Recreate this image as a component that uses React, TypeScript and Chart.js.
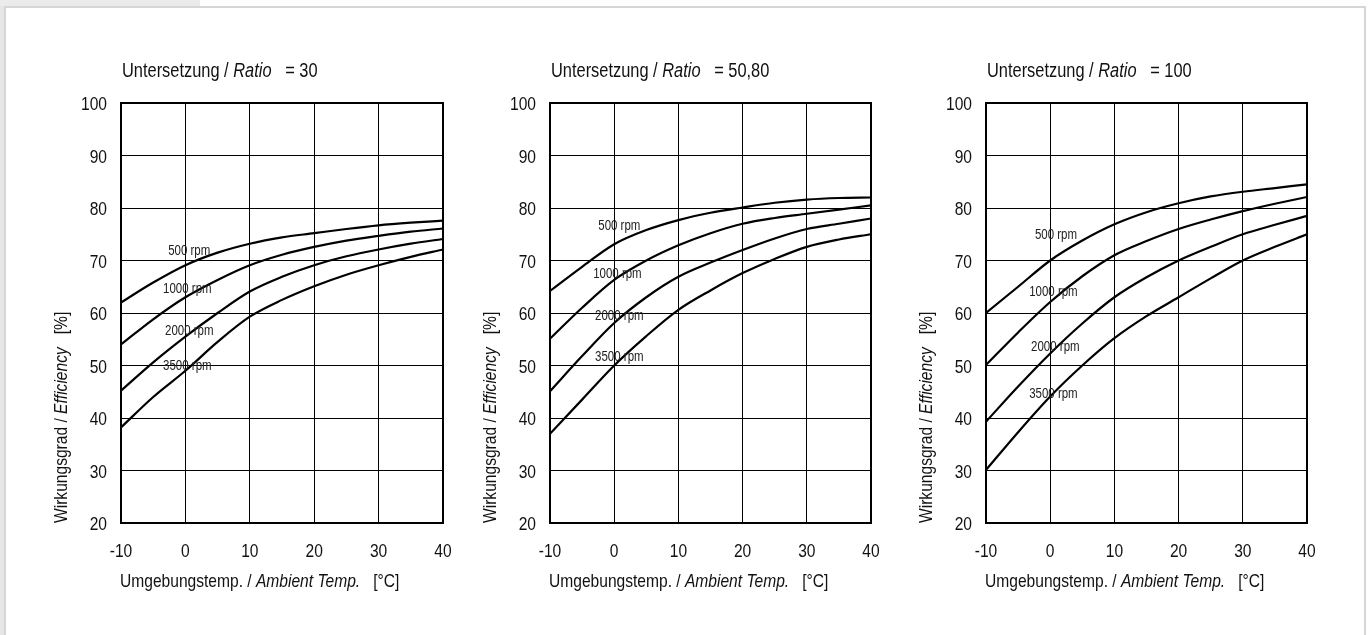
import { useEffect, useRef } from "react";
import { Chart, registerables } from "chart.js";

Chart.register(...registerables);

// ---------- data ----------
const temps = [-10, -5, 0, 5, 10, 15, 20, 25, 30, 35, 40];
const speeds = ["500 rpm", "1000 rpm", "2000 rpm", "3500 rpm"];
const ratioNames = ["30", "50,80", "100"];

const r30_500 = [62, 65.8, 69.1, 71.5, 73.2, 74.4, 75.2, 76.0, 76.7, 77.2, 77.6];
const r30_1000 = [54, 58.8, 63.0, 66.3, 69.1, 71.1, 72.6, 73.8, 74.7, 75.5, 76.1];
const r30_2000 = [45.2, 50.6, 55.5, 60.0, 64.1, 66.9, 69.1, 70.8, 72.1, 73.2, 74.1];
const r30_3500 = [38.2, 44.0, 49.0, 54.5, 59.3, 62.5, 65.1, 67.3, 69.1, 70.7, 72.1];

const r50_500 = [64.2, 68.8, 73.1, 75.8, 77.7, 79.1, 80.1, 81.0, 81.6, 81.9, 82.0];
const r50_1000 = [55.1, 61.0, 66.3, 70.0, 72.9, 75.2, 77.0, 78.1, 78.9, 79.7, 80.5];
const r50_2000 = [45.1, 51.8, 58.1, 63.0, 66.9, 69.6, 72.0, 74.2, 76.0, 77.0, 78.0];
const r50_3500 = [37.0, 43.5, 50.0, 55.6, 60.6, 64.3, 67.6, 70.3, 72.6, 74.0, 75.0];

const r100_500 = [60, 65, 70, 73.8, 76.9, 79.2, 80.9, 82.2, 83.1, 83.8, 84.5];
const r100_1000 = [50.1, 56.3, 62.1, 67.0, 71.0, 73.7, 76.0, 77.8, 79.4, 80.8, 82.1];
const r100_2000 = [39.3, 46.0, 52.3, 58.0, 63.0, 66.8, 70.0, 72.6, 75.0, 76.8, 78.5];
const r100_3500 = [30.1, 37.3, 44.1, 50.0, 55.2, 59.4, 63.0, 66.6, 70.0, 72.6, 75.0];

const series = [
  [r30_500, r30_1000, r30_2000, r30_3500],
  [r50_500, r50_1000, r50_2000, r50_3500],
  [r100_500, r100_1000, r100_2000, r100_3500],
];

// curve label anchors in data coordinates [temp, efficiency]
const labelAnchors = [
  [[0.6, 72.0], [0.3, 64.7], [0.6, 56.8], [0.3, 50.1]],
  [[0.8, 76.7], [0.5, 67.6], [0.8, 59.6], [0.8, 51.8]],
  [[0.9, 75.0], [0.5, 64.1], [0.8, 53.7], [0.5, 44.7]],
];

const xMin = -10, xMax = 40, xStep = 10;
const yMin = 20, yMax = 100, yStep = 10;

// ---------- layout ----------
const plotLefts = [121, 550, 986];
const plotWidths = [322, 321, 321];
const PLOT_TOP = 103;
const PLOT_BOTTOM = 523;
const H = 635;
const Y_AXIS_W = 111;
const X_AXIS_H = 40;
const RIGHT_PAD = 40;

const FONT = '"Liberation Sans", Arial, sans-serif';
const NARROW = 0.82;
const TEXT = "#111";

type Seg = { t: string; i?: boolean };

function segWidth(ctx: CanvasRenderingContext2D, segs: Seg[], size: number) {
  let w = 0;
  for (const s of segs) {
    ctx.font = `${s.i ? "italic " : ""}${size}px ${FONT}`;
    w += ctx.measureText(s.t).width;
  }
  return w * NARROW;
}

// draws narrow text starting at (0,0) of current transform
function drawSegs(ctx: CanvasRenderingContext2D, segs: Seg[], size: number) {
  ctx.save();
  ctx.scale(NARROW, 1);
  ctx.textAlign = "left";
  let cx = 0;
  for (const s of segs) {
    ctx.font = `${s.i ? "italic " : ""}${size}px ${FONT}`;
    ctx.fillText(s.t, cx, 0);
    cx += ctx.measureText(s.t).width;
  }
  ctx.restore();
}

function drawAt(ctx: CanvasRenderingContext2D, segs: Seg[], size: number, x: number, y: number, align: "left" | "center" | "right") {
  const w = segWidth(ctx, segs, size);
  const dx = align === "left" ? 0 : align === "center" ? -w / 2 : -w;
  ctx.save();
  ctx.translate(x + dx, y);
  drawSegs(ctx, segs, size);
  ctx.restore();
}

function makePlugin(idx: number) {
  return {
    id: "decor" + idx,
    afterDraw(chart: any) {
      const { ctx, chartArea: ca, scales } = chart;
      ctx.save();
      ctx.strokeStyle = "#000";
      ctx.lineWidth = 2;
      ctx.strokeRect(ca.left, ca.top, ca.right - ca.left, ca.bottom - ca.top);

      ctx.fillStyle = TEXT;
      ctx.textBaseline = "alphabetic";

      // tick labels (from the library's scales)
      scales.x.ticks.forEach((t: any) => {
        const x = scales.x.getPixelForValue(t.value);
        drawAt(ctx, [{ t: String(t.value) }], 19, x, ca.bottom + 34, "center");
      });
      scales.y.ticks.forEach((t: any) => {
        const y = scales.y.getPixelForValue(t.value);
        drawAt(ctx, [{ t: String(t.value) }], 19, ca.left - 14, y + 7, "right");
      });

      // titles
      drawAt(ctx, [{ t: "Untersetzung / " }, { t: "Ratio", i: true }, { t: "   = " + ratioNames[idx] }], 20, ca.left + 1, 77, "left");
      drawAt(ctx, [{ t: "Umgebungstemp. / " }, { t: "Ambient Temp.", i: true }, { t: "   [°C]" }], 19, ca.left - 1, 587, "left");

      ctx.save();
      ctx.translate(ca.left - 54, ca.bottom);
      ctx.rotate(-Math.PI / 2);
      drawSegs(ctx, [{ t: "Wirkungsgrad / " }, { t: "Efficiency", i: true }, { t: "   [%]" }], 19);
      ctx.restore();

      // curve labels
      ctx.fillStyle = "#222";
      labelAnchors[idx].forEach((p, k) => {
        const x = scales.x.getPixelForValue(p[0]);
        const y = scales.y.getPixelForValue(p[1]);
        drawAt(ctx, [{ t: speeds[k] }], 14, x, y + 5, "center");
      });
      ctx.restore();
    },
  };
}

function Panel({ idx }: { idx: number }) {
  const ref = useRef<HTMLCanvasElement | null>(null);
  const width = Y_AXIS_W + plotWidths[idx] + RIGHT_PAD;
  useEffect(() => {
    if (!ref.current) return;
    const chart = new Chart(ref.current, {
      type: "line",
      data: {
        datasets: series[idx].map((vals, k) => ({
          label: speeds[k],
          data: temps.map((t, j) => ({ x: t, y: vals[j] })),
          borderColor: "#000",
          borderWidth: 2.2,
          pointRadius: 0,
          fill: false,
          cubicInterpolationMode: "monotone" as const,
        })),
      },
      options: {
        animation: false,
        responsive: false,
        events: [],
        layout: { padding: { left: 0, right: RIGHT_PAD, top: PLOT_TOP, bottom: H - PLOT_BOTTOM - X_AXIS_H } },
        plugins: { legend: { display: false }, tooltip: { enabled: false }, title: { display: false } },
        scales: {
          x: {
            type: "linear",
            min: xMin,
            max: xMax,
            afterFit: (s: any) => { s.height = X_AXIS_H; },
            ticks: { stepSize: xStep, display: false },
            grid: { color: "#000", lineWidth: 1, drawTicks: false },
            border: { display: false },
          },
          y: {
            type: "linear",
            min: yMin,
            max: yMax,
            afterFit: (s: any) => { s.width = Y_AXIS_W; },
            ticks: { stepSize: yStep, display: false },
            grid: { color: "#000", lineWidth: 1, drawTicks: false },
            border: { display: false },
          },
        },
      },
      plugins: [makePlugin(idx)],
    });
    return () => chart.destroy();
  }, [idx]);
  return (
    <canvas
      ref={ref}
      width={width}
      height={H}
      style={{ position: "absolute", left: plotLefts[idx] - Y_AXIS_W, top: 0, width, height: H }}
    />
  );
}

export default function App() {
  useEffect(() => {
    document.body.style.margin = "0";
  }, []);
  return (
    <div style={{ position: "relative", width: 1368, height: 635, overflow: "hidden", background: "#fff" }}>
      <div style={{ position: "absolute", left: 0, top: 0, width: 4, height: 635, background: "#e6e6e6" }} />
      <div style={{ position: "absolute", left: 0, top: 0, width: 200, height: 6, background: "#ebebeb" }} />
      <div
        style={{
          position: "absolute",
          left: 4,
          top: 6,
          width: 1358,
          height: 640,
          borderLeft: "2px solid #d6d6d6",
          borderTop: "2px solid #d6d6d6",
          borderRight: "2px solid #d6d6d6",
          background: "#fff",
        }}
      />
      {[0, 1, 2].map((i) => (
        <Panel key={i} idx={i} />
      ))}
    </div>
  );
}
